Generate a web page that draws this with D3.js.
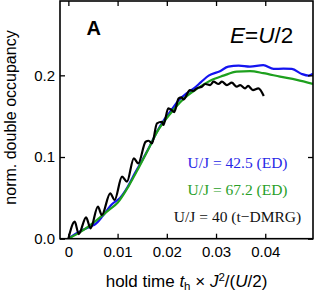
<!DOCTYPE html>
<html>
<head>
<meta charset="utf-8">
<script src="https://cdn.jsdelivr.net/npm/d3@7"></script>
<style>
  body { margin: 0; background: #fff; }
  svg { display: block; font-family: "Liberation Sans", Arial, sans-serif; }
</style>
</head>
<body>
<div id="chart"></div>
<script>
// ED, U/J = 42.5
const blueData = [
  [0, 0], [0.0015, 0.006], [0.003, 0.011], [0.0045, 0.015], [0.0055, 0.018],
  [0.007, 0.028], [0.0088, 0.042], [0.0105, 0.050], [0.012, 0.063], [0.0135, 0.080],
  [0.015, 0.096], [0.0165, 0.113], [0.018, 0.131], [0.0195, 0.146], [0.021, 0.158],
  [0.0225, 0.170], [0.024, 0.178], [0.0255, 0.184], [0.027, 0.192], [0.0285, 0.1996],
  [0.0308, 0.2051], [0.0325, 0.2106], [0.0346, 0.2118], [0.0369, 0.2106], [0.0396, 0.2124],
  [0.0417, 0.2078], [0.0437, 0.2082], [0.0454, 0.2078], [0.0474, 0.2017], [0.0488, 0.1996],
  [0.0497, 0.202]
];
// ED, U/J = 67.2
const greenData = [
  [0, 0], [0.0028, 0.0095], [0.0055, 0.0215], [0.0082, 0.035], [0.010, 0.044],
  [0.0123, 0.065], [0.0143, 0.087], [0.0163, 0.110], [0.018, 0.1305], [0.0207, 0.153],
  [0.0234, 0.1712], [0.0261, 0.1834], [0.0288, 0.1935], [0.0315, 0.1996], [0.0342, 0.2045],
  [0.0369, 0.2051], [0.0396, 0.2027], [0.043, 0.1984], [0.0464, 0.1944], [0.0497, 0.1895]
];
// t-DMRG, U/J = 40
const blackData = [
  [0, 0], [0.0013, 0.0208], [0.0021, 0.0057], [0.0036, 0.0262], [0.0045, 0.0127],
  [0.0060, 0.0392], [0.0068, 0.0290], [0.0085, 0.0556], [0.0094, 0.0474], [0.0109, 0.0759],
  [0.0119, 0.0698], [0.0133, 0.0984], [0.0142, 0.0922], [0.0157, 0.1187], [0.0163, 0.1199],
  [0.0170, 0.1167], [0.0180, 0.1412], [0.0190, 0.1432], [0.0193, 0.1392], [0.0203, 0.1596],
  [0.0210, 0.1575], [0.0215, 0.155], [0.0224, 0.1718], [0.0230, 0.1731], [0.0234, 0.1706],
  [0.0247, 0.1820], [0.0254, 0.1808], [0.0261, 0.1841], [0.0271, 0.1861], [0.0278, 0.1894],
  [0.0288, 0.1881], [0.0295, 0.1922], [0.0305, 0.1894], [0.0312, 0.1922], [0.0322, 0.1881],
  [0.0332, 0.1910], [0.0342, 0.1861], [0.0349, 0.1881], [0.0359, 0.1841], [0.0365, 0.187],
  [0.0375, 0.182], [0.0386, 0.1841], [0.0397, 0.1747]
];
const xTicks = [0, 0.01, 0.02, 0.03, 0.04];
const yTicks = [0, 0.1, 0.2];
const legendLabels = ['U/J = 42.5 (ED)', 'U/J = 67.2 (ED)', 'U/J = 40 (t\u2212DMRG)'];
const seriesColors = ['#1414f0', '#1ea01e', '#000'];
const legendColors = ['#2828e6', '#28a028', '#111'];

const width = 314, height = 292;
const margin = { top: 1, right: 1, bottom: 53.3, left: 60 };

const svg = d3.select('#chart').append('svg')
  .attr('width', width)
  .attr('height', height);

const x = d3.scaleLinear()
  .domain([-0.0017, 0.0497])
  .range([margin.left, width - margin.right]);
const y = d3.scaleLinear()
  .domain([0, 0.291])
  .range([height - margin.bottom, margin.top]);

svg.append('clipPath').attr('id', 'plot')
  .append('rect')
  .attr('x', margin.left).attr('y', margin.top)
  .attr('width', width - margin.left - margin.right)
  .attr('height', height - margin.top - margin.bottom);

const line = d3.line()
  .x((d) => x(d[0]))
  .y((d) => y(d[1]))
  .curve(d3.curveMonotoneX);

const curves = svg.append('g').attr('clip-path', 'url(#plot)');
[blueData, greenData, blackData].forEach((data, i) => {
  curves.append('path')
    .datum(data)
    .attr('d', line)
    .attr('fill', 'none')
    .attr('stroke', seriesColors[i])
    .attr('stroke-width', 2.2)
    .attr('stroke-linejoin', 'round');
});

// axes, ticks inward
const xFmt = (d) => d === 0 ? '0' : d3.format('.2f')(d);
svg.append('g')
  .attr('transform', `translate(0,${height - margin.bottom})`)
  .call(d3.axisBottom(x).tickValues(xTicks).tickFormat(xFmt).tickSize(-5).tickSizeOuter(0).tickPadding(8))
  .call((g) => g.selectAll('text').attr('font-size', 15).attr('font-family', null));
svg.append('g')
  .attr('transform', `translate(0,${margin.top})`)
  .call(d3.axisTop(x).tickValues(xTicks).tickFormat('').tickSize(-5).tickSizeOuter(0));
svg.append('g')
  .attr('transform', `translate(${margin.left},0)`)
  .call(d3.axisLeft(y).tickValues(yTicks).tickFormat(d3.format('.1f')).tickSize(-5).tickSizeOuter(0).tickPadding(5))
  .call((g) => g.selectAll('text').attr('font-size', 15).attr('font-family', null));
svg.append('g')
  .attr('transform', `translate(${width - margin.right},0)`)
  .call(d3.axisRight(y).tickValues(yTicks).tickFormat('').tickSize(-5).tickSizeOuter(0));

svg.selectAll('.domain').remove();
svg.selectAll('.tick line').attr('stroke-width', 1.3);
svg.selectAll('.tick text').attr('fill', '#000');

svg.append('rect')
  .attr('x', margin.left).attr('y', margin.top)
  .attr('width', width - margin.left - margin.right)
  .attr('height', height - margin.top - margin.bottom)
  .attr('fill', 'none')
  .attr('stroke', '#000')
  .attr('stroke-width', 1.6);

// panel letter and energy
svg.append('text')
  .attr('x', 86.5).attr('y', 35)
  .attr('font-size', 20).attr('font-weight', 'bold')
  .text('A');

const eLabel = svg.append('text')
  .attr('x', 230).attr('y', 42.7)
  .attr('font-size', 22.5);
eLabel.append('tspan').attr('font-style', 'italic').text('E');
eLabel.append('tspan').text('=');
eLabel.append('tspan').attr('font-style', 'italic').text('U');
eLabel.append('tspan').text('/2');

// legend
legendLabels.forEach((t, i) => {
  svg.append('text')
    .attr('x', 237.5)
    .attr('y', 168.3 + i * 26.7)
    .attr('text-anchor', 'middle')
    .attr('font-family', '"Liberation Serif", "Times New Roman", serif')
    .attr('font-size', 15.5)
    .attr('fill', legendColors[i])
    .text(t);
});

// axis titles
svg.append('text')
  .attr('transform', 'translate(15.5,117.5) rotate(-90)')
  .attr('text-anchor', 'middle')
  .attr('font-size', 16)
  .text('norm. double occupancy');

const xLabel = svg.append('text')
  .attr('x', 186.5).attr('y', 286.7)
  .attr('text-anchor', 'middle')
  .attr('font-size', 17);
xLabel.append('tspan').text('hold time ');
xLabel.append('tspan').attr('font-style', 'italic').text('t');
xLabel.append('tspan').attr('font-size', 11.5).attr('dy', 3).text('h');
xLabel.append('tspan').attr('dy', -3).text(' \u00d7 ');
xLabel.append('tspan').attr('font-style', 'italic').text('J');
xLabel.append('tspan').attr('font-size', 11.5).attr('dy', -6).text('2');
xLabel.append('tspan').attr('dy', 6).text('/(');
xLabel.append('tspan').attr('font-style', 'italic').text('U');
xLabel.append('tspan').text('/2)');
</script>
</body>
</html>
